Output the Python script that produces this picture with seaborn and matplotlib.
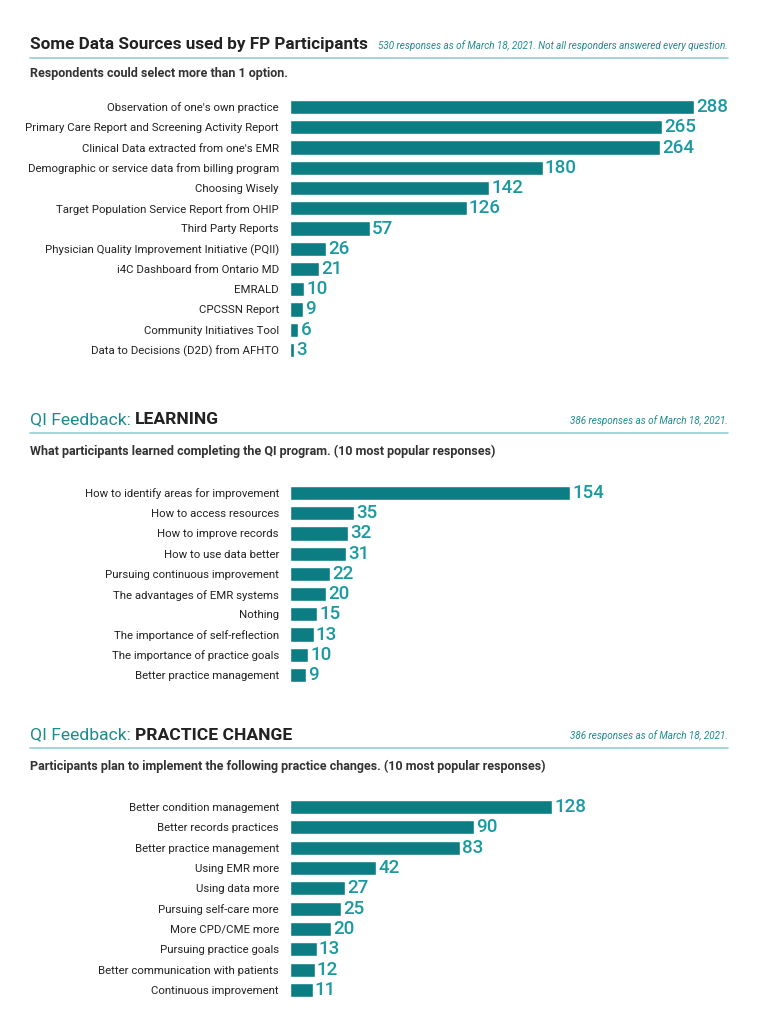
import matplotlib
matplotlib.use("Agg")
import matplotlib.pyplot as plt
import seaborn as sns
import pandas as pd

# ---------------- data ----------------
src_labels = ["Observation of one's own practice",
              "Primary Care Report and Screening Activity Report",
              "Clinical Data extracted from one's EMR",
              "Demographic or service data from billing program",
              "Choosing Wisely",
              "Target Population Service Report from OHIP",
              "Third Party Reports",
              "Physician Quality Improvement Initiative (PQII)",
              "i4C Dashboard from Ontario MD",
              "EMRALD",
              "CPCSSN Report",
              "Community Initiatives Tool",
              "Data to Decisions (D2D) from AFHTO"]
src_values = [288, 265, 264, 180, 142, 126, 57, 26, 21, 10, 9, 6, 3]

learn_labels = ["How to identify areas for improvement",
                "How to access resources",
                "How to improve records",
                "How to use data better",
                "Pursuing continuous improvement",
                "The advantages of EMR systems",
                "Nothing",
                "The importance of self-reflection",
                "The importance of practice goals",
                "Better practice management"]
learn_values = [154, 35, 32, 31, 22, 20, 15, 13, 10, 9]

change_labels = ["Better condition management",
                 "Better records practices",
                 "Better practice management",
                 "Using EMR more",
                 "Using data more",
                 "Pursuing self-care more",
                 "More CPD/CME more",
                 "Pursuing practice goals",
                 "Better communication with patients",
                 "Continuous improvement"]
change_values = [128, 90, 83, 42, 27, 25, 20, 13, 12, 11]

# ---------------- style ----------------
sns.set_theme(style="white")
plt.rcParams['font.family'] = ['Roboto', 'DejaVu Sans']

BAR = "#0d7d84"
VAL = "#1a9aa0"
TEAL_T = "#1f8a8e"
DARK = "#222222"
LINE = "#93cfd3"

W, H = 759, 1024
fig = plt.figure(figsize=(W / 100, H / 100), dpi=100)

def fx(x):
    return x / W

def fy(y):
    return 1 - y / H

def panel(labels, values, top_px, bot_px, xmax):
    ax = fig.add_axes([fx(290), fy(bot_px), fx(730) - fx(290), (bot_px - top_px) / H])
    df = pd.DataFrame({"label": labels, "value": values})
    sns.barplot(data=df, y="label", x="value", orient="h", color=BAR,
                saturation=1, width=0.7, ax=ax)
    ax.set_xlim(0, xmax)
    ax.set_ylim(len(labels) - 0.5, -0.5)
    ax.set_xlabel("")
    ax.set_ylabel("")
    ax.set_xticks([])
    for s in ax.spines.values():
        s.set_visible(False)
    ax.tick_params(axis='y', length=0, pad=8, labelsize=8.2, labelcolor=DARK)
    for c in ax.containers:
        ax.bar_label(c, padding=1.5, color=VAL, fontsize=13.5,
                     fontweight='medium')
    return ax

panel(src_labels, src_values, 96.9, 360.1, 440 / 1.403)
panel(learn_labels, learn_values, 482.9, 685.1, 440 / 1.82)
panel(change_labels, change_values, 796.9, 1000.1, 440 / 2.05)

renderer = fig.canvas.get_renderer()

def rule(y):
    fig.add_artist(plt.Line2D([fx(30), fx(728)], [fy(y), fy(y)], color=LINE, lw=1.2))

# Section 1 header
fig.text(fx(30), fy(45), "Some Data Sources used by FP Participants",
         fontsize=12.3, fontweight='bold', color=DARK, va='center', ha='left')
fig.text(fx(728), fy(46), "530 responses as of March 18, 2021. Not all responders answered every question.",
         fontsize=7.1, style='italic', color=TEAL_T, va='center', ha='right')
rule(58)
fig.text(fx(30), fy(74), "Respondents could select more than 1 option.",
         fontsize=9.0, fontweight='bold', color="#333333", va='center', ha='left')

def qi_header(y_title, word, y_line, y_sub, sub):
    t = fig.text(fx(30), fy(y_title), "QI Feedback: ", fontsize=12.6, color=TEAL_T,
                 va='center', ha='left')
    bb = t.get_window_extent(renderer)
    fig.text(bb.x1 / W, fy(y_title), word, fontsize=12.6, fontweight='bold',
             color=DARK, va='center', ha='left')
    fig.text(fx(728), fy(y_title + 1), "386 responses as of March 18, 2021.",
             fontsize=7.1, style='italic', color=TEAL_T, va='center', ha='right')
    rule(y_line)
    fig.text(fx(30), fy(y_sub), sub, fontsize=9.0, fontweight='bold',
             color="#333333", va='center', ha='left')

qi_header(420, "LEARNING", 433, 451,
          "What participants learned completing the QI program. (10 most popular responses)")
qi_header(735, "PRACTICE CHANGE", 748, 766,
          "Participants plan to implement the following practice changes. (10 most popular responses)")

fig.savefig("out.png", dpi=100, facecolor="white")
